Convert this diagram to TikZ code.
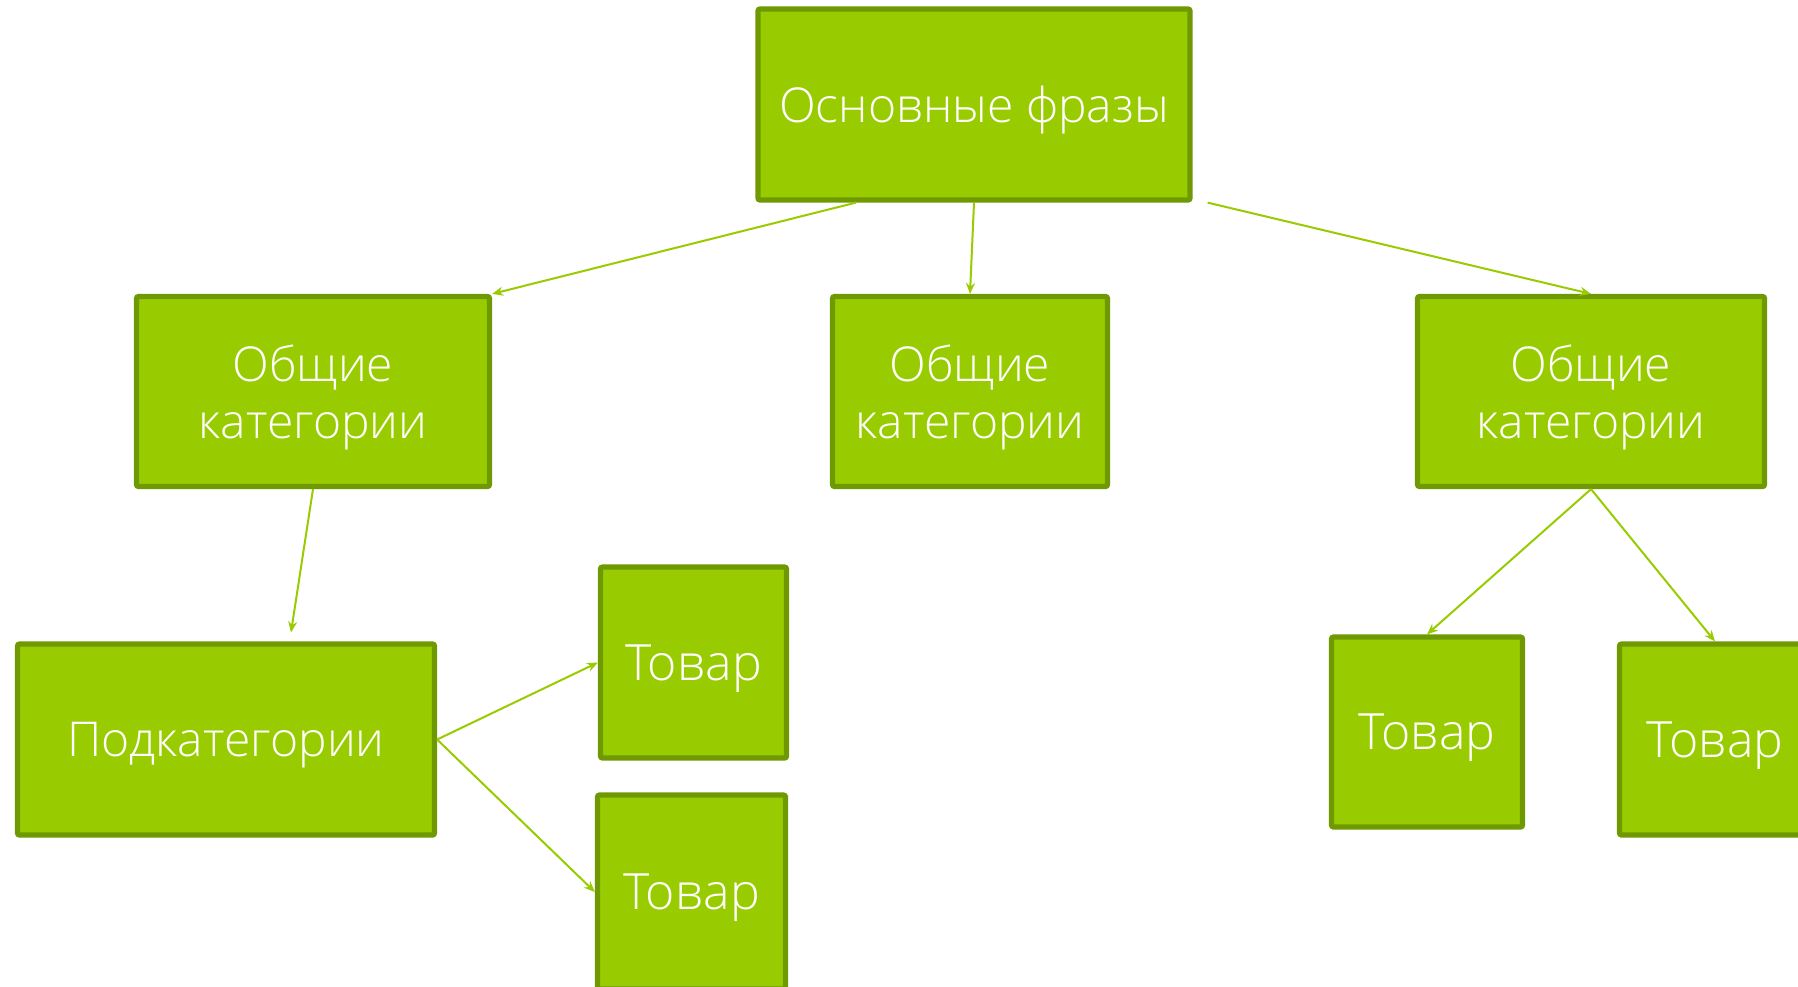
\documentclass[tikz,border=0pt]{standalone}
\usepackage{fontspec}
\setmainfont{Open Sans Light}
\usetikzlibrary{arrows.meta,calc}
\definecolor{boxfill}{HTML}{99CC00}
\definecolor{boxedge}{HTML}{6F9900}
\begin{document}
\begin{tikzpicture}[x=0.5pt,y=-0.5pt,
  box/.style={draw=boxedge, fill=boxfill, line width=2.6pt, rounded corners=1pt,
    text=white, align=center, inner sep=0pt, text depth=0pt, font=\fontsize{24}{28.5}\selectfont},
  ware/.style={box, font=\fontsize{25}{30}\selectfont},
  link/.style={draw=boxfill, line width=1pt, -{Stealth[length=5.5pt,width=4.5pt]}}]
\clip (0,0) rectangle (1798,986);
\fill[white] (0,0) rectangle (1798,986);
\node[box, minimum width=216pt, minimum height=95.5pt, font=\fontsize{24}{29}\selectfont] (root) at (974,104.5) {Основные фразы};
\node[box, minimum width=176.5pt, minimum height=95pt] (lcat) at (313,391.5) {Общие\\категории};
\node[box, minimum width=137.5pt, minimum height=95pt] (mcat) at (970,391.5) {Общие\\категории};
\node[box, minimum width=173.5pt, minimum height=95pt] (rcat) at (1591,391.5) {Общие\\категории};
\node[box, minimum width=208.5pt, minimum height=95.5pt] (sub) at (226,739.5) {Подкатегории};
\node[ware, minimum width=93pt, minimum height=95.5pt] (t1) at (693.5,662.5) {Товар};
\node[ware, minimum width=94pt, minimum height=97pt] (t2) at (691.5,892) {Товар};
\node[ware, minimum width=95.5pt, minimum height=95pt] (t3) at (1427,732) {Товар};
\node[ware, minimum width=95.5pt, minimum height=95.5pt] (t4) at (1715,739.5) {Товар};
\draw[link] ($(root.south west)!0.23!(root.south east)$) -- (lcat.north east);
\draw[link] (root.south) -- (mcat.north);
\draw[link] ([xshift=7.5pt]root.south east) -- (rcat.north);
\draw[link] (lcat.south) -- ([xshift=32.5pt,yshift=4.5pt]sub.north);
\draw[link] (sub.east) -- (t1.west);
\draw[link] (sub.east) -- (t2.west);
\draw[link] (rcat.south) -- (t3.north);
\draw[link] (rcat.south) -- (t4.north);
\end{tikzpicture}
\end{document}
